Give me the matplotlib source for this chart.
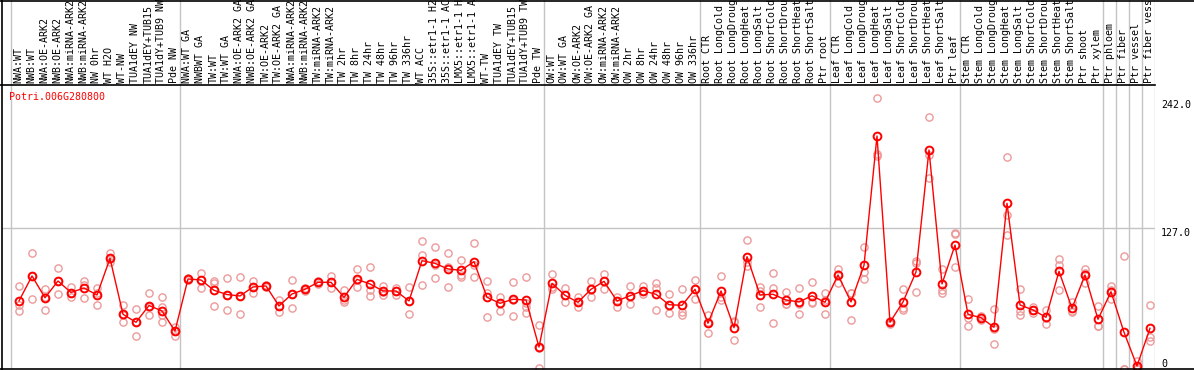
import matplotlib
matplotlib.use("Agg")
import matplotlib.pyplot as plt
from matplotlib.lines import Line2D
import numpy as np

# ---------------- data ----------------
labels = ["NWA:WT", "NWB:WT", "NWA:OE-ARK2", "NWB:OE-ARK2", "NWA:miRNA-ARK2", "NWB:miRNA-ARK2",
          "NW 0hr", "WT H2O", "WT-NW", "TUA1dEY NW", "TUA1dEY+TUB15", "TUA1dY+TUB9 NW", "Pde NW",
          "NWA:WT GA", "NWBWT GA", "TW:WT", "TW:WT GA", "NWA:OE-ARK2 GA", "NWB:OE-ARK2 GA",
          "TW:OE-ARK2", "TW:OE-ARK2 GA", "NWA:miRNA-ARK2", "NWB:miRNA-ARK2", "TW:miRNA-ARK2",
          "TW:miRNA-ARK2", "TW 2hr", "TW 8hr", "TW 24hr", "TW 48hr", "TW 96hr", "TW 336hr",
          "WT ACC", "35S::etr1-1 H2", "35S::etr1-1 AC", "LMX5::etr1-1 H", "LMX5::etr1-1 A",
          "WT-TW", "TUA1dEY TW", "TUA1dEY+TUB15", "TUA1dY+TUB9 TW", "Pde TW",
          "OW:WT", "OW:WT GA", "OW:OE-ARK2", "OW:OE-ARK2 GA", "OW:miRNA-ARK2", "OW:miRNA-ARK2",
          "OW 2hr", "OW 8hr", "OW 24hr", "OW 48hr", "OW 96hr", "OW 336hr",
          "Root CTR", "Root LongCold", "Root LongDroug", "Root LongHeat", "Root LongSalt",
          "Root ShortCold", "Root ShortDrou", "Root ShortHeat", "Root ShortSalt", "Ptr root",
          "Leaf CTR", "Leaf LongCold", "Leaf LongDroug", "Leaf LongHeat", "Leaf LongSalt",
          "Leaf ShortCold", "Leaf ShortDrou", "Leaf ShortHeat", "Leaf ShortSalt", "Ptr leaf",
          "Stem CTR", "Stem LongCold", "Stem LongDroug", "Stem LongHeat", "Stem LongSalt",
          "Stem ShortCold", "Stem ShortDrou", "Stem ShortHeat", "Stem ShortSalt", "Ptr shoot",
          "Ptr xylem", "Ptr phloem", "Ptr fiber", "Ptr vessel", "Ptr fiber vess"]

means = [61.3, 83.8, 64.2, 79.3, 68.9, 73.0, 66.7, 99.7, 49.3, 42.1, 57.2, 52.3, 34.2,
         81.1, 80.2, 70.9, 67.1, 65.8, 73.9, 74.8, 56.8, 67.6, 71.8, 78.1, 78.1, 64.6, 80.8,
         76.6, 70.3, 70.3, 61.3, 97.6, 95.2, 90.1, 88.9, 96.7, 64.6, 59.2, 62.8, 62.2, 19.8,
         77.2, 66.4, 60.1, 71.8, 79.0, 61.3, 66.0, 70.5, 67.3, 57.9, 57.4, 71.8,
         41.2, 70.3, 37.2, 101.2, 66.7, 67.3, 62.2, 60.4, 66.0, 60.1,
         84.7, 60.4, 93.4, 209.9, 42.1, 60.4, 87.4, 197.3, 76.6, 111.7,
         49.3, 46.2, 37.6, 149.3, 57.7, 53.2, 46.6, 88.0, 54.7, 84.7,
         44.8, 69.6, 33.1, 2.7, 36.7]

replicates = [
    [75.0, 57.7, 52.3], [104.5, 83.8, 63.1], [72.1, 64.9, 53.2], [91.0, 79.3, 67.6],
    [73.9, 68.5, 64.9], [79.3, 75.7, 64.0], [73.0, 68.5, 57.7], [104.5, 99.1, 96.4],
    [57.7, 48.6, 42.3], [54.1, 42.3, 29.7], [68.5, 55.9, 48.6], [64.9, 55.9, 48.6, 42.3],
    [37.8, 34.2, 29.7],
    [82.0, 81.1, 80.2], [86.5, 80.2, 73.0], [79.3, 77.5, 56.8], [82.0, 66.7, 53.2],
    [82.9, 65.8, 49.5], [79.3, 73.9, 68.5], [75.7, 74.8, 73.9], [62.2, 56.8, 51.4],
    [80.2, 67.6, 55.0], [73.0, 72.1, 70.3], [79.3, 78.4, 76.6], [83.8, 78.4, 73.0],
    [71.2, 62.2, 60.4], [90.1, 80.2, 73.9], [91.9, 71.2, 65.8], [74.8, 69.4, 66.7],
    [73.0, 70.3, 66.7], [73.9, 61.3, 49.5], [115.3, 102.7, 75.7], [109.9, 93.7, 82.0],
    [104.5, 91.9, 73.9], [98.2, 84.7, 82.9], [113.5, 93.7, 82.9], [79.3, 68.5, 46.8],
    [64.9, 59.5, 52.3], [78.4, 62.2, 47.7], [82.9, 59.5, 55.9, 50.5], [39.6, 18.9, 0.9],
    [85.6, 73.9, 72.1], [73.0, 66.7, 60.4], [64.9, 60.4, 55.9], [79.3, 72.1, 64.9],
    [85.6, 79.3, 72.1], [64.9, 61.3, 55.9], [74.8, 65.8, 58.6], [74.8, 70.3, 67.6],
    [77.5, 73.0, 53.2], [67.6, 57.7, 50.5], [72.1, 51.4, 48.6], [80.2, 72.1, 63.1],
    [48.6, 42.3, 32.4], [83.8, 64.9, 62.2], [43.2, 42.3, 26.1], [116.2, 96.4, 92.8],
    [73.9, 70.3, 55.9], [86.5, 73.0, 41.4], [69.4, 58.6, 58.6], [73.0, 58.6, 49.5],
    [78.4, 60.4, 59.5], [68.5, 62.2, 49.5],
    [90.1, 85.6, 77.5], [68.5, 68.5, 44.1], [109.9, 87.4, 81.1], [243.9, 193.7, 191.9],
    [43.2, 42.3, 40.5], [72.1, 55.0, 53.2], [97.3, 95.5, 69.4], [227.0, 192.8, 172.1],
    [90.1, 71.2, 68.5], [122.5, 121.6, 91.9],
    [63.1, 45.9, 38.7], [47.7, 46.8, 44.1], [54.1, 36.0, 22.5], [191.0, 138.7, 120.7],
    [72.1, 52.3, 48.6], [55.9, 53.2, 50.5], [53.2, 45.9, 40.5], [99.1, 93.7, 71.2],
    [60.4, 52.3, 51.4], [90.1, 86.5, 77.5],
    [56.8, 38.7, 38.7], [74.8, 71.2, 63.1], [101.8, 0.0, 0.0], [7.2, 0.9, 0.0],
    [57.7, 28.8, 25.2]]

group_starts = [0, 13, 41, 53, 63, 73, 84, 85, 86, 87, 88]
gene_id = "Potri.006G280800"
ytick_values = [242.0, 127.0, 0]
ytick_labels = ["242.0", "127.0", "0"]

# ---------------- layout ----------------
W, H = 1194, 370
fig = plt.figure(figsize=(W / 100, H / 100), dpi=100)
FONT = "DejaVu Sans Mono"
FS = 7.2
GRID = "#c4c4c4"
RED = "#ff0000"
PINK = "#ec9a9a"

def fx(x):
    return x / W

def fy(y):
    return 1 - y / H

L, R, TOP, HDR, BOT = 2, 1155, 0, 85, 369
x0 = (L - 19) / 13.0
x1 = (R - 19) / 13.0

ax = fig.add_axes([fx(L), fy(BOT), (R - L) / W, (BOT - HDR) / H])
hx = fig.add_axes([fx(L), fy(HDR), (R - L) / W, (HDR - TOP) / H])
for a in (ax, hx):
    a.set_xlim(x0, x1)
    a.set_xticks([])
    a.set_yticks([])
    for s in a.spines.values():
        s.set_visible(False)
    a.patch.set_alpha(0)

ymax = (BOT - HDR) / 1.11
ax.set_ylim(0, ymax)
hx.set_ylim(0, 1)

# group separators
for g in group_starts:
    for a in (ax, hx):
        a.axvline(g - 0.6, color=GRID, lw=1.0, zorder=1)
ax.axhline(127.0, color=GRID, lw=1.0, zorder=1)

# replicate points
xs = np.arange(len(means))
for i, reps in enumerate(replicates):
    ax.plot([xs[i]] * len(reps), reps, linestyle="none", marker="o", ms=5.2,
            mfc="none", mec=PINK, mew=1.0, zorder=2)

# mean line + points
ax.plot(xs, means, color=RED, lw=1.0, marker="o", ms=5.6, mfc="none",
        mec=RED, mew=1.4, zorder=3)

# header labels
for i, lab in enumerate(labels):
    hx.text(xs[i] - 0.05, 2 / 85, lab, rotation=90, ha="center", va="bottom",
            family=FONT, fontsize=FS, color="black", clip_on=True)

# gene title
ax.text((9 - L) / (R - L), (BOT - 97) / (BOT - HDR), gene_id, transform=ax.transAxes,
        ha="left", va="center", family=FONT, fontsize=FS, color=RED)

# y tick labels on the right
for v, t in zip(ytick_values, ytick_labels):
    ax.text(1 + 6 / (R - L), v, t, transform=ax.get_yaxis_transform(),
            ha="left", va="bottom" if v == 0 else "top",
            family=FONT, fontsize=FS, color="black", clip_on=False)

# black frame lines
def fig_line(xa, ya, xb, yb, lw=1.2):
    fig.add_artist(Line2D([fx(xa), fx(xb)], [fy(ya), fy(yb)], color="black",
                          lw=lw, transform=fig.transFigure))

fig_line(1.5, 0, 1.5, 369.5)
fig_line(0, 0.6, W, 0.6)
fig_line(0, HDR, R, HDR)
fig_line(0, 369, W, 369)

fig.savefig("out.png", dpi=100)
